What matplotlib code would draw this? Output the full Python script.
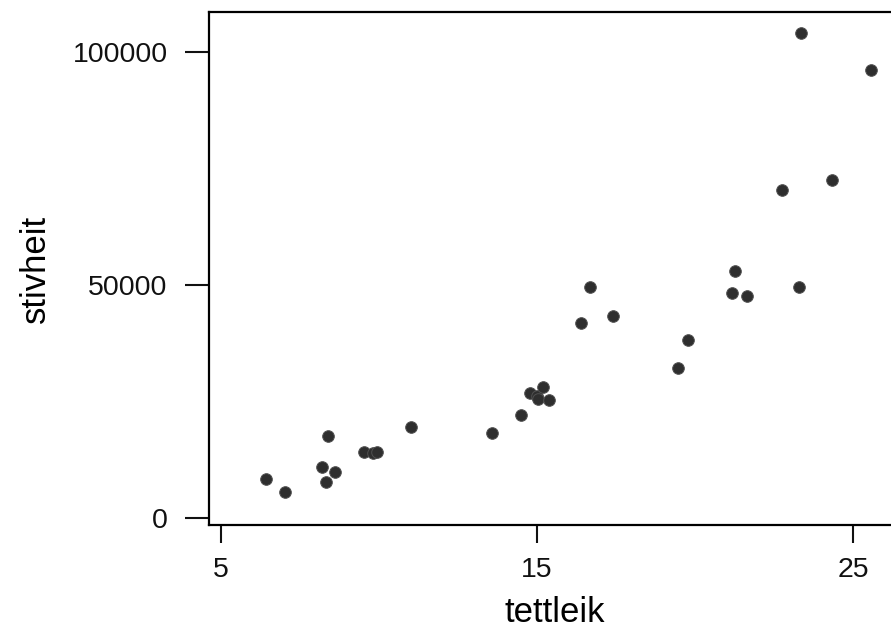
import numpy as np
import matplotlib
matplotlib.use('Agg')
import matplotlib.pyplot as plt

# tettleik (density) and stivheit (stiffness)
tettleik = [6.43, 7.04, 8.20, 8.33, 8.40, 8.60, 9.51, 9.81, 9.93, 11.01,
            13.58, 14.49, 14.76, 14.99, 15.04, 15.20, 15.39,
            16.40, 16.68, 17.39,
            19.47, 19.76, 21.17, 21.26, 21.65, 22.75, 23.27, 23.34, 24.34, 25.55]
stivheit = [8250, 5520, 10830, 7670, 17560, 9820, 14180, 13970, 14180, 19560,
            18200, 22140, 26730, 26150, 25440, 28020, 25290,
            41770, 49500, 43400,
            32170, 38250, 48290, 53090, 47710, 70360, 49580, 104100, 72500, 96140]

xticks = [5, 15, 25]
yticks = [0, 50000, 100000]

plt.rcParams['font.family'] = ['Liberation Sans', 'DejaVu Sans']

fig = plt.figure(figsize=(8.91, 6.33), dpi=100)
ax = fig.add_axes([0.2349, 0.1701, 0.776, 0.8114])

ax.scatter(tettleik, stivheit, s=70, color='#2e2e2e', edgecolors='#505050',
           linewidths=0.7, zorder=3)

ax.set_xlim(4.63, 26.5)
ax.set_ylim(-1630, 108740)
ax.set_xticks(xticks)
ax.set_yticks(yticks)
ax.set_xticklabels([str(t) for t in xticks])
ax.set_yticklabels([str(t) for t in yticks])

for sp in ax.spines.values():
    sp.set_linewidth(1.6)
    sp.set_color('black')

ax.tick_params(axis='y', direction='out', length=17, width=1.5, pad=13,
               labelsize=20.5, colors='#111111')
ax.tick_params(axis='x', direction='out', length=13, width=1.5, pad=10,
               labelsize=20.5, colors='#111111')

ax.set_xlabel('tettleik', fontsize=25, labelpad=9)
ax.set_ylabel('stivheit', fontsize=25, labelpad=15)

fig.savefig('out.png', dpi=100)
